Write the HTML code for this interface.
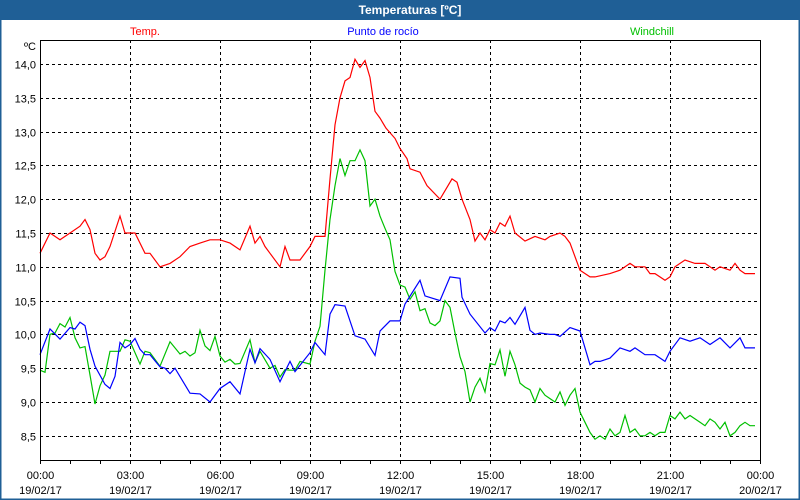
<!DOCTYPE html>
<html><head><meta charset="utf-8"><style>
html,body{margin:0;padding:0;background:#fff}
svg{display:block;font-family:"Liberation Sans",sans-serif}
</style></head><body>
<svg id="chart" width="800" height="500" viewBox="0 0 800 500">
<rect x="0" y="0" width="800" height="500" fill="#fff"/>
<rect x="0.5" y="0.5" width="799" height="499" fill="none" stroke="#1f5f96" stroke-width="2"/>
<rect x="0" y="0" width="800" height="20" fill="#1f5f96"/>
<text x="410" y="14" text-anchor="middle" fill="#fff" font-size="12" font-weight="bold">Temperaturas [ºC]</text>
<text x="145" y="35" text-anchor="middle" fill="#ff0000" font-size="11">Temp.</text>
<text x="383" y="35" text-anchor="middle" fill="#0000ff" font-size="11">Punto de rocío</text>
<text x="652" y="35" text-anchor="middle" fill="#00c000" font-size="11">Windchill</text>
<text x="24" y="50" fill="#000" font-size="11">ºC</text>
<g id="grid"></g><g id="series"></g><g id="axes"></g>
</svg>
<script>
const yTicks=[14.0,13.5,13.0,12.5,12.0,11.5,11.0,10.5,10.0,9.5,9.0,8.5];
const xTickHours=[0,3,6,9,12,15,18,21,24];
const xTickTimes=["00:00","03:00","06:00","09:00","12:00","15:00","18:00","21:00","00:00"];
const xTickDates=["19/02/17","19/02/17","19/02/17","19/02/17","19/02/17","19/02/17","19/02/17","19/02/17","20/02/17"];
// minutes since 00:00
const tempMin=[0,20,40,60,80,90,100,110,120,130,140,160,170,190,210,220,240,260,280,300,320,340,360,380,400,420,430,440,450,460,480,490,500,520,540,550,570,580,590,600,610,620,630,640,650,660,670,680,692,710,720,734,740,760,774,800,824,834,844,860,870,880,890,900,910,920,930,940,950,970,990,1010,1020,1040,1050,1060,1080,1100,1110,1140,1160,1180,1190,1210,1220,1230,1250,1260,1270,1290,1310,1330,1350,1360,1380,1390,1400,1410,1430];
const tempVal=[11.2,11.5,11.4,11.5,11.6,11.7,11.55,11.2,11.1,11.15,11.3,11.75,11.5,11.5,11.2,11.2,11.0,11.05,11.15,11.3,11.35,11.4,11.4,11.35,11.25,11.6,11.35,11.45,11.3,11.2,11.0,11.3,11.1,11.1,11.3,11.45,11.45,12.3,13.1,13.5,13.75,13.8,14.07,13.95,14.05,13.8,13.3,13.2,13.05,12.9,12.75,12.6,12.45,12.4,12.2,12.0,12.3,12.25,12.0,11.7,11.38,11.5,11.4,11.55,11.5,11.65,11.6,11.75,11.5,11.38,11.45,11.4,11.45,11.5,11.45,11.35,10.95,10.85,10.85,10.9,10.95,11.05,11.0,11.0,10.9,10.9,10.8,10.85,11.0,11.1,11.05,11.05,10.95,11.0,10.95,11.05,10.95,10.9,10.9];
const dewMin=[0,20,40,60,70,80,90,100,110,130,140,150,160,170,180,190,200,210,220,240,250,260,270,300,320,340,360,380,400,420,430,440,460,480,500,510,540,550,570,580,590,610,630,650,670,680,700,720,730,760,770,800,820,840,844,860,890,900,910,920,930,940,950,970,980,990,1000,1020,1030,1040,1060,1080,1100,1110,1120,1140,1160,1180,1190,1210,1230,1250,1260,1280,1300,1320,1340,1360,1380,1400,1410,1430];
const dewVal=[9.7,10.08,9.93,10.1,10.08,10.18,10.13,9.78,9.53,9.26,9.2,9.38,9.88,9.8,9.85,9.94,9.78,9.7,9.7,9.52,9.5,9.42,9.5,9.13,9.12,9.0,9.2,9.3,9.12,9.78,9.58,9.79,9.63,9.3,9.6,9.45,9.73,9.88,9.7,10.3,10.44,10.42,9.98,9.93,9.69,10.05,10.2,10.2,10.45,10.8,10.57,10.5,10.85,10.83,10.55,10.3,10.02,10.1,10.05,10.2,10.17,10.25,10.15,10.4,10.06,10.0,10.02,10.0,10.0,9.97,10.1,10.05,9.55,9.6,9.6,9.65,9.8,9.75,9.8,9.7,9.7,9.6,9.75,9.95,9.9,9.95,9.85,9.95,9.8,9.95,9.8,9.8];
const windMin=[0,10,20,30,40,50,60,70,80,90,100,110,120,130,140,160,170,180,200,210,220,240,260,280,290,300,310,320,330,340,350,360,370,380,390,400,420,430,440,460,470,480,490,500,510,520,540,550,560,570,580,590,600,610,620,630,640,650,660,670,680,690,700,710,720,730,740,750,760,770,780,790,800,810,820,830,840,850,860,870,880,890,900,910,920,930,940,950,960,970,980,990,1000,1010,1020,1030,1040,1050,1060,1070,1080,1090,1100,1110,1120,1130,1140,1150,1160,1170,1180,1190,1200,1210,1220,1230,1240,1250,1260,1270,1280,1290,1300,1310,1320,1330,1340,1350,1360,1370,1380,1390,1400,1410,1420,1430];
const windVal=[9.47,9.44,10.0,10.02,10.16,10.11,10.25,9.95,9.8,9.82,9.4,8.97,9.24,9.4,9.75,9.75,9.92,9.9,9.56,9.75,9.73,9.53,9.89,9.71,9.75,9.68,9.73,10.06,9.83,9.76,9.97,9.68,9.59,9.63,9.56,9.57,9.92,9.58,9.75,9.5,9.54,9.37,9.48,9.47,9.47,9.6,9.56,9.9,10.12,10.95,11.7,12.2,12.6,12.35,12.57,12.57,12.73,12.57,11.9,12.0,11.75,11.57,11.4,10.93,10.73,10.7,10.52,10.63,10.35,10.38,10.17,10.13,10.2,10.5,10.4,10.02,9.67,9.45,9.0,9.22,9.35,9.15,9.57,9.55,9.77,9.38,9.75,9.55,9.28,9.22,9.18,9.0,9.2,9.1,9.05,9.0,9.15,8.95,9.1,9.2,8.85,8.7,8.55,8.45,8.5,8.45,8.6,8.5,8.55,8.8,8.55,8.6,8.5,8.5,8.55,8.5,8.55,8.55,8.8,8.75,8.85,8.75,8.8,8.75,8.7,8.65,8.75,8.7,8.6,8.7,8.5,8.55,8.65,8.7,8.65,8.65];

const NS="http://www.w3.org/2000/svg";
const L=40,R=760,T=40,B=460;
function xS(min){return L+(R-L)*min/1440;}
function yS(v){return 64+(14-v)*67.6;}
function mk(tag,attrs,parent){const e=document.createElementNS(NS,tag);for(const k in attrs)e.setAttribute(k,attrs[k]);parent.appendChild(e);return e;}
const grid=document.getElementById('grid'),series=document.getElementById('series'),axes=document.getElementById('axes');
yTicks.forEach(v=>{
  const y=Math.round(yS(v))+0.5;
  const g=mk('line',{x1:L,x2:R,y1:y,y2:y,stroke:'#000','stroke-dasharray':'3,3'},grid);
  
  
  const t=mk('text',{x:36,y:y+4,'text-anchor':'end','font-size':11,fill:'#000'},axes);
  t.textContent=v.toFixed(1).replace('.',',');
  
  
});
for(let h=0;h<=24;h++){
  const x=Math.round(xS(h*60))+0.5;
  const tk=mk('line',{x1:x,x2:x,y1:B,y2:B+4,stroke:'#000'},axes);
  
  
}
xTickHours.forEach((h,i)=>{
  const x=Math.round(xS(h*60))+0.5;
  if(h>0&&h<24){
    const g=mk('line',{x1:x,x2:x,y1:T,y2:B,stroke:'#000','stroke-dasharray':'3,3'},grid);
    
    
  }
  const t1=mk('text',{x:x,y:479,'text-anchor':'middle','font-size':11,fill:'#000'},axes);
  t1.textContent=xTickTimes[i];
  
  
  const t2=mk('text',{x:x,y:494,'text-anchor':'middle','font-size':11,fill:'#000'},axes);
  t2.textContent=xTickDates[i];
  
  
});
const frame=mk('rect',{x:L+0.5,y:T+0.5,width:R-L,height:B-T,fill:'none',stroke:'#000'},axes);


function line(ts,vs,color,name){
  const d=ts.map((t,i)=>(i?'L':'M')+xS(t).toFixed(1)+','+yS(vs[i]).toFixed(1)).join('');
  const p=mk('path',{d:d,fill:'none',stroke:color,'stroke-width':1.2},series);
  
  
}
line(windMin,windVal,'#00c000','windchill-line');
line(dewMin,dewVal,'#0000ff','dew-point-line');
line(tempMin,tempVal,'#ff0000','temperature-line');
</script>
</body></html>
